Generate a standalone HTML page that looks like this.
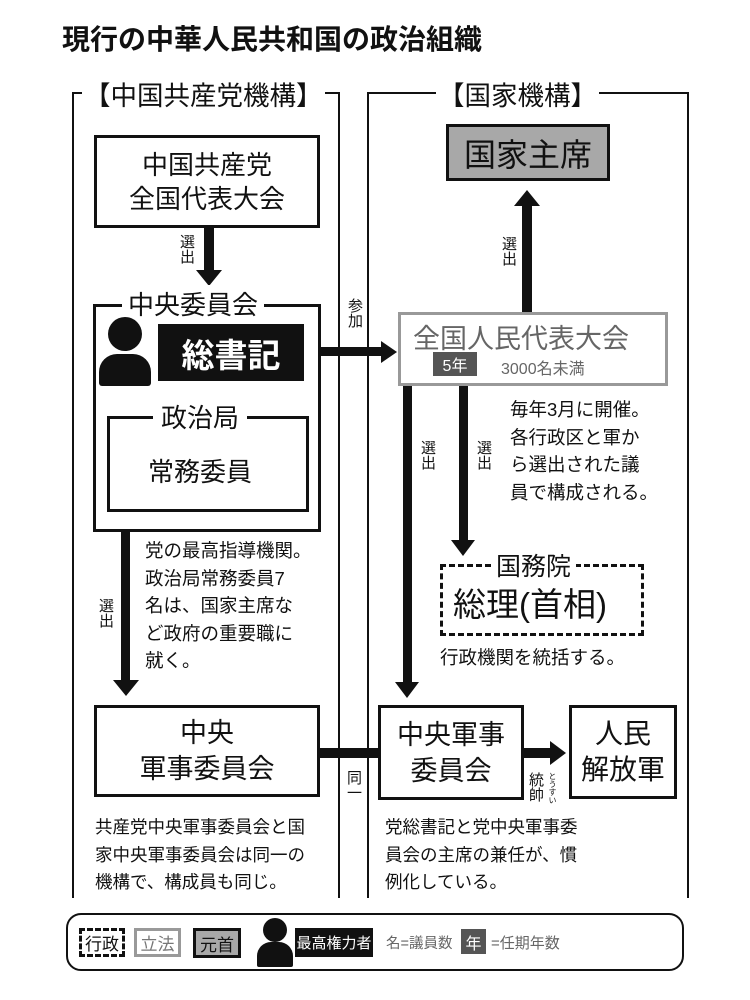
<!DOCTYPE html>
<html><head><meta charset="utf-8"><style>
body{margin:0;width:750px;height:1000px;background:#fff;position:relative;overflow:hidden;font-family:"Liberation Sans","Noto Sans CJK JP",sans-serif;color:#111}
.a{position:absolute}
.box{position:absolute;border:3px solid #111;box-sizing:border-box;background:#fff}
.c{display:flex;flex-direction:column;align-items:center;justify-content:center;text-align:center}
.v{position:absolute;writing-mode:vertical-rl;font-size:15px;line-height:16px;background:#fff}
.t{position:absolute;font-size:18.5px;line-height:27.5px;white-space:nowrap}
</style></head><body>
<div class="a" style="left:62px;top:18px;font-size:28px;font-weight:bold">現行の中華人民共和国の政治組織</div>

<!-- frames -->
<div class="a" style="left:72px;top:92px;width:268px;height:806px;border:2px solid #111;border-bottom:none;box-sizing:border-box"></div>
<div class="a" style="left:82px;top:74px;background:#fff;font-size:26.5px;padding:0 2px">【中国共産党機構】</div>
<div class="a" style="left:367px;top:92px;width:322px;height:806px;border:2px solid #111;border-bottom:none;box-sizing:border-box"></div>
<div class="a" style="left:436px;top:74px;background:#fff;font-size:26.5px;padding:0 2px">【国家機構】</div>

<!-- party congress -->
<div class="box c" style="left:94px;top:135px;width:226px;height:93px;font-size:26px;line-height:34px">中国共産党<br>全国代表大会</div>
<div class="a" style="left:204px;top:228px;width:10px;height:44px;background:#111"></div>
<div class="a" style="left:196px;top:270px;border-left:13px solid transparent;border-right:13px solid transparent;border-top:16px solid #111"></div>
<div class="v" style="left:178px;top:234px">選出</div>

<!-- central committee -->
<div class="box" style="left:93px;top:304px;width:228px;height:228px"></div>
<div class="a" style="left:122px;top:285px;background:#fff;font-size:26px;padding:0 6px">中央委員会</div>
<div class="a" style="left:108px;top:317px;width:34px;height:34px;border-radius:50%;background:#111"></div>
<div class="a" style="left:99px;top:354px;width:52px;height:32px;border-radius:18px 18px 3px 3px;background:#111"></div>
<div class="a c" style="left:158px;top:324px;width:146px;height:57px;background:#111;color:#fff;font-size:33px;font-weight:bold">総書記</div>
<div class="box" style="left:107px;top:416px;width:202px;height:96px"></div>
<div class="a" style="left:153px;top:398px;background:#fff;font-size:26px;padding:0 8px">政治局</div>
<div class="a" style="left:148px;top:452px;font-size:26px">常務委員</div>

<!-- 参加 arrow -->
<div class="a" style="left:321px;top:347px;width:62px;height:9px;background:#111"></div>
<div class="a" style="left:381px;top:341px;border-top:11px solid transparent;border-bottom:11px solid transparent;border-left:16px solid #111"></div>
<div class="v" style="left:346px;top:298px;background:transparent">参加</div>

<!-- left text and arrow -->
<div class="t" style="left:145px;top:537px">党の最高指導機関。<br>政治局常務委員7<br>名は、国家主席な<br>ど政府の重要職に<br>就く。</div>
<div class="a" style="left:121px;top:532px;width:9px;height:150px;background:#111"></div>
<div class="a" style="left:113px;top:680px;border-left:13px solid transparent;border-right:13px solid transparent;border-top:16px solid #111"></div>
<div class="v" style="left:97px;top:598px">選出</div>

<div class="box c" style="left:94px;top:705px;width:226px;height:92px;font-size:27px;line-height:36px">中央<br>軍事委員会</div>
<div class="a" style="left:320px;top:748px;width:60px;height:10px;background:#111"></div>
<div class="v" style="left:345px;top:770px;background:transparent">同一</div>
<div class="t" style="left:95px;top:814px;font-size:17.5px">共産党中央軍事委員会と国<br>家中央軍事委員会は同一の<br>機構で、構成員も同じ。</div>

<!-- state -->
<div class="box c" style="left:446px;top:124px;width:164px;height:57px;background:#a8a8a8;font-size:32px">国家主席</div>
<div class="a" style="left:522px;top:205px;width:10px;height:110px;background:#111"></div>
<div class="a" style="left:514px;top:190px;border-left:13px solid transparent;border-right:13px solid transparent;border-bottom:16px solid #111"></div>
<div class="v" style="left:500px;top:236px">選出</div>

<div class="a" style="left:398px;top:312px;width:270px;height:74px;border:3px solid #999;box-sizing:border-box;background:#fff"></div>
<div class="a" style="left:413px;top:317px;font-size:27px;color:#666">全国人民代表大会</div>
<div class="a c" style="left:433px;top:352px;width:44px;height:24px;background:#555;color:#fff;font-size:16px">5年</div>
<div class="a" style="left:501px;top:355px;font-size:16px;color:#666">3000名未満</div>

<div class="a" style="left:403px;top:386px;width:9px;height:298px;background:#111"></div>
<div class="a" style="left:395px;top:682px;border-left:12px solid transparent;border-right:12px solid transparent;border-top:16px solid #111"></div>
<div class="v" style="left:419px;top:440px">選出</div>
<div class="a" style="left:459px;top:386px;width:9px;height:156px;background:#111"></div>
<div class="a" style="left:451px;top:540px;border-left:12px solid transparent;border-right:12px solid transparent;border-top:16px solid #111"></div>
<div class="v" style="left:475px;top:440px">選出</div>
<div class="t" style="left:510px;top:396px">毎年3月に開催。<br>各行政区と軍か<br>ら選出された議<br>員で構成される。</div>

<div class="a" style="left:440px;top:564px;width:204px;height:72px;border:3px dashed #111;box-sizing:border-box"></div>
<div class="a" style="left:491px;top:547px;background:#fff;font-size:25px;padding:0 5px">国務院</div>
<div class="a" style="left:453px;top:578px;font-size:33px">総理(首相)</div>
<div class="t" style="left:440px;top:644px">行政機関を統括する。</div>

<div class="box c" style="left:378px;top:705px;width:146px;height:95px;font-size:27px;line-height:36px">中央軍事<br>委員会</div>
<div class="a" style="left:524px;top:748px;width:28px;height:10px;background:#111"></div>
<div class="a" style="left:550px;top:741px;border-top:12px solid transparent;border-bottom:12px solid transparent;border-left:16px solid #111"></div>
<div class="v" style="left:527px;top:772px;background:transparent">統帥</div>
<div class="a" style="left:548px;top:772px;writing-mode:vertical-rl;font-size:8px;line-height:9px">とうすい</div>
<div class="box c" style="left:569px;top:705px;width:108px;height:94px;font-size:28px;line-height:36px">人民<br>解放軍</div>
<div class="t" style="left:385px;top:814px;font-size:17.5px">党総書記と党中央軍事委<br>員会の主席の兼任が、慣<br>例化している。</div>

<!-- legend -->
<div class="a" style="left:66px;top:913px;width:618px;height:58px;border:2px solid #111;border-radius:15px;box-sizing:border-box"></div>
<div class="a c" style="left:79px;top:928px;width:46px;height:29px;border:3px dashed #111;box-sizing:border-box;font-size:17px">行政</div>
<div class="a c" style="left:134px;top:928px;width:47px;height:29px;border:3px solid #999;box-sizing:border-box;font-size:17px;color:#777">立法</div>
<div class="a c" style="left:193px;top:928px;width:48px;height:30px;border:3px solid #111;background:#a8a8a8;box-sizing:border-box;font-size:17px">元首</div>
<div class="a" style="left:263px;top:918px;width:24px;height:24px;border-radius:50%;background:#111"></div>
<div class="a" style="left:257px;top:942px;width:36px;height:25px;border-radius:14px 14px 2px 2px;background:#111"></div>
<div class="a c" style="left:295px;top:928px;width:78px;height:29px;background:#111;color:#fff;font-size:15px">最高権力者</div>
<div class="a" style="left:386px;top:932px;font-size:14.5px;color:#666">名=議員数</div>
<div class="a c" style="left:461px;top:929px;width:25px;height:25px;background:#555;color:#fff;font-size:16px">年</div>
<div class="a" style="left:491px;top:932px;font-size:15px;color:#666">=任期年数</div>
</body></html>
